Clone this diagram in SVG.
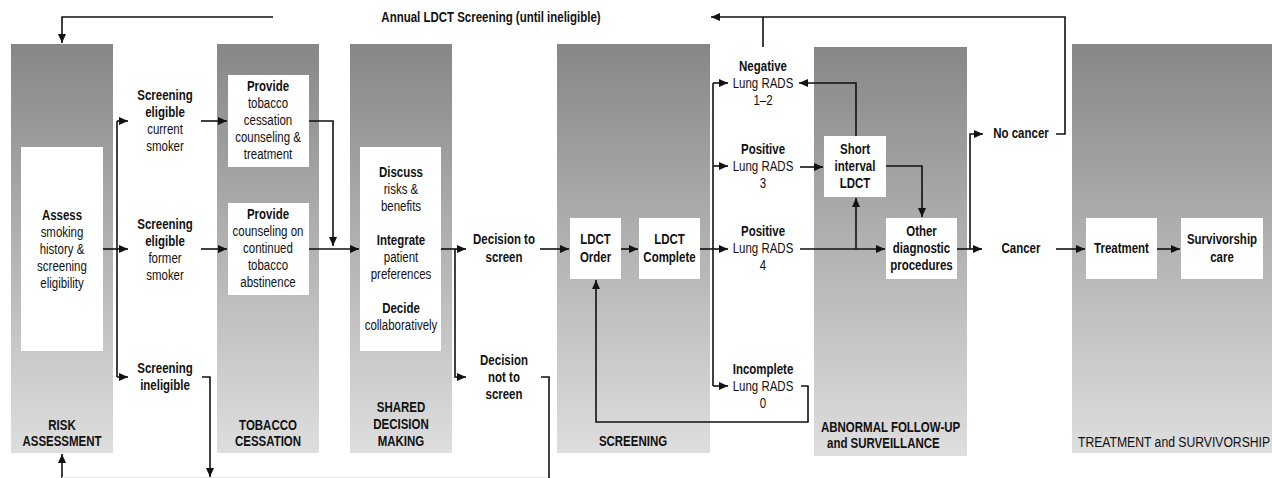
<svg xmlns="http://www.w3.org/2000/svg" width="1272" height="478" viewBox="0 0 1272 478">
<defs>
<linearGradient id="g" x1="0" y1="0" x2="0" y2="1">
<stop offset="0" stop-color="#878787"/>
<stop offset="1" stop-color="#dedede"/>
</linearGradient>
<marker id="a" markerUnits="userSpaceOnUse" markerWidth="10" markerHeight="9" refX="9" refY="4" orient="auto">
<path d="M0,0 L9,4 L0,8 z" fill="#111"/>
</marker>
<style>
.p{fill:url(#g)}
.b{fill:#fff}
text{font-family:"Liberation Sans",Arial,sans-serif;font-size:14px;fill:#111;text-anchor:middle}
.bd{font-weight:bold}
.st{text-anchor:start}
.c{fill:none;stroke:#111;stroke-width:1.6}
.ca{fill:none;stroke:#111;stroke-width:1.6;marker-end:url(#a)}
</style>
</defs>
<rect width="1272" height="478" fill="#fff"/>

<g id="panels">
<rect class="p" x="11" y="44" width="102" height="409"/>
<rect class="p" x="217" y="44" width="102" height="409"/>
<rect class="p" x="350" y="44" width="102" height="409"/>
<rect class="p" x="557" y="44" width="153" height="409"/>
<rect class="p" x="814" y="47" width="153" height="409"/>
<rect class="p" x="1072" y="44" width="200" height="409"/>
</g>

<g id="panel-labels">
<g transform="translate(62 0) scale(0.82 1)">
<text class="bd" y="430">RISK</text>
<text class="bd" y="446.5">ASSESSMENT</text>
</g>
<g transform="translate(268 0) scale(0.82 1)">
<text class="bd" y="430">TOBACCO</text>
<text class="bd" y="446.5">CESSATION</text>
</g>
<g transform="translate(401 0) scale(0.82 1)">
<text class="bd" y="412">SHARED</text>
<text class="bd" y="429">DECISION</text>
<text class="bd" y="446">MAKING</text>
</g>
<g transform="translate(633 0) scale(0.82 1)">
<text class="bd" y="446">SCREENING</text>
</g>
<g transform="translate(821 0) scale(0.82 1)">
<text class="bd st" y="432">ABNORMAL FOLLOW-UP</text>
</g>
<g transform="translate(827 0) scale(0.82 1)">
<text class="bd st" y="448.5">and SURVEILLANCE</text>
</g>
<g transform="translate(1078 0) scale(0.87 1)">
<text class="st" y="447">TREATMENT and SURVIVORSHIP</text>
</g>
</g>

<g id="connectors">
<path class="ca" d="M273,17 H62 V43"/>
<path class="ca" d="M1056,134 H1065 V17 H711"/>
<path class="c" d="M763,47 V17"/>
<path class="ca" d="M62,478 V454"/>
<path class="c" d="M62,477.5 H549" style="stroke:#e6e6e6;stroke-width:1"/>
<path class="c" d="M117,121 V377"/>
<path class="ca" d="M117,121 H128"/>
<path class="ca" d="M117,377 H128"/>
<path class="ca" d="M103,249 H128"/>
<path class="ca" d="M201,121 H227"/>
<path class="ca" d="M201,249 H227"/>
<path class="ca" d="M202,377 H210 V477"/>
<path class="ca" d="M309,121 H333 V246"/>
<path class="ca" d="M309,249 H359"/>
<path class="ca" d="M441,249 H466"/>
<path class="ca" d="M455,249 V377 H466"/>
<path class="ca" d="M540,249 H569"/>
<path class="c" d="M541,377 H549 V478"/>
<path class="ca" d="M621,249 H638"/>
<path class="ca" d="M700,249 H728"/>
<path class="c" d="M713,83 V386"/>
<path class="ca" d="M713,83 H728"/>
<path class="ca" d="M713,166 H728"/>
<path class="ca" d="M713,386 H728"/>
<path class="ca" d="M800,167 H823"/>
<path class="ca" d="M856,136 V83 H799"/>
<path class="ca" d="M886,166 H922 V217"/>
<path class="ca" d="M800,249 H885"/>
<path class="ca" d="M856,249 V198"/>
<path class="ca" d="M801,386 H808 V422 H596 V280"/>
<path class="ca" d="M957,249 H982"/>
<path class="ca" d="M970,249 V134 H983"/>
<path class="ca" d="M1056,249 H1085"/>
<path class="ca" d="M1157,249 H1180"/>
</g>

<g id="title" transform="translate(491 0) scale(0.82 1)">
<text class="bd" y="22">Annual LDCT Screening (until ineligible)</text>
</g>

<g id="assess">
<rect class="b" x="21" y="147" width="82" height="204"/>
<g transform="translate(62 0) scale(0.82 1)">
<text class="bd" y="220">Assess</text>
<text y="237">smoking</text>
<text y="254">history &amp;</text>
<text y="271">screening</text>
<text y="288">eligibility</text>
</g>
</g>

<g id="eligible-current" transform="translate(165 0) scale(0.82 1)">
<text class="bd" y="100">Screening</text>
<text class="bd" y="117">eligible</text>
<text y="134">current</text>
<text y="151">smoker</text>
</g>

<g id="eligible-former" transform="translate(165 0) scale(0.82 1)">
<text class="bd" y="229">Screening</text>
<text class="bd" y="246">eligible</text>
<text y="263">former</text>
<text y="280">smoker</text>
</g>

<g id="ineligible" transform="translate(165 0) scale(0.82 1)">
<text class="bd" y="373.5">Screening</text>
<text class="bd" y="390">ineligible</text>
</g>

<g id="provide-cessation">
<rect class="b" x="228" y="75" width="81" height="92"/>
<g transform="translate(268 0) scale(0.82 1)">
<text class="bd" y="91">Provide</text>
<text y="108">tobacco</text>
<text y="125">cessation</text>
<text y="142">counseling &amp;</text>
<text y="159">treatment</text>
</g>
</g>

<g id="provide-abstinence">
<rect class="b" x="228" y="203" width="81" height="92"/>
<g transform="translate(268 0) scale(0.82 1)">
<text class="bd" y="219">Provide</text>
<text y="236">counseling on</text>
<text y="253">continued</text>
<text y="270">tobacco</text>
<text y="287">abstinence</text>
</g>
</g>

<g id="shared-decision">
<rect class="b" x="360" y="147" width="81" height="204"/>
<g transform="translate(401 0) scale(0.82 1)">
<text class="bd" y="177">Discuss</text>
<text y="194">risks &amp;</text>
<text y="211">benefits</text>
<text class="bd" y="245">Integrate</text>
<text y="262">patient</text>
<text y="279">preferences</text>
<text class="bd" y="313">Decide</text>
<text y="330">collaboratively</text>
</g>
</g>

<g id="decision-screen" transform="translate(504 0) scale(0.82 1)">
<text class="bd" y="244">Decision to</text>
<text class="bd" y="262">screen</text>
</g>

<g id="decision-not" transform="translate(504 0) scale(0.82 1)">
<text class="bd" y="365">Decision</text>
<text class="bd" y="382">not to</text>
<text class="bd" y="399">screen</text>
</g>

<g id="ldct-order">
<rect class="b" x="570" y="218" width="51" height="61"/>
<g transform="translate(595.5 0) scale(0.82 1)">
<text class="bd" y="244">LDCT</text>
<text class="bd" y="262">Order</text>
</g>
</g>

<g id="ldct-complete">
<rect class="b" x="639" y="218" width="61" height="61"/>
<g transform="translate(669.5 0) scale(0.82 1)">
<text class="bd" y="244">LDCT</text>
<text class="bd" y="262">Complete</text>
</g>
</g>

<g id="negative" transform="translate(763 0) scale(0.82 1)">
<text class="bd" y="71">Negative</text>
<text y="88">Lung RADS</text>
<text y="105">1–2</text>
</g>

<g id="positive3" transform="translate(763 0) scale(0.82 1)">
<text class="bd" y="154">Positive</text>
<text y="171">Lung RADS</text>
<text y="188">3</text>
</g>

<g id="positive4" transform="translate(763 0) scale(0.82 1)">
<text class="bd" y="236">Positive</text>
<text y="253">Lung RADS</text>
<text y="270">4</text>
</g>

<g id="incomplete" transform="translate(763 0) scale(0.82 1)">
<text class="bd" y="374">Incomplete</text>
<text y="391">Lung RADS</text>
<text y="408">0</text>
</g>

<g id="short-interval">
<rect class="b" x="824" y="136" width="62" height="61"/>
<g transform="translate(855 0) scale(0.82 1)">
<text class="bd" y="154">Short</text>
<text class="bd" y="171">interval</text>
<text class="bd" y="188">LDCT</text>
</g>
</g>

<g id="other-diagnostic">
<rect class="b" x="886" y="218" width="71" height="61"/>
<g transform="translate(921.5 0) scale(0.82 1)">
<text class="bd" y="236">Other</text>
<text class="bd" y="253">diagnostic</text>
<text class="bd" y="270">procedures</text>
</g>
</g>

<g id="no-cancer" transform="translate(1021 0) scale(0.82 1)">
<text class="bd" y="138">No cancer</text>
</g>

<g id="cancer" transform="translate(1021 0) scale(0.82 1)">
<text class="bd" y="253">Cancer</text>
</g>

<g id="treatment">
<rect class="b" x="1086" y="218" width="71" height="61"/>
<g transform="translate(1121.5 0) scale(0.82 1)">
<text class="bd" y="253">Treatment</text>
</g>
</g>

<g id="survivorship">
<rect class="b" x="1181" y="218" width="82" height="61"/>
<g transform="translate(1222 0) scale(0.82 1)">
<text class="bd" y="244">Survivorship</text>
<text class="bd" y="262">care</text>
</g>
</g>
</svg>
